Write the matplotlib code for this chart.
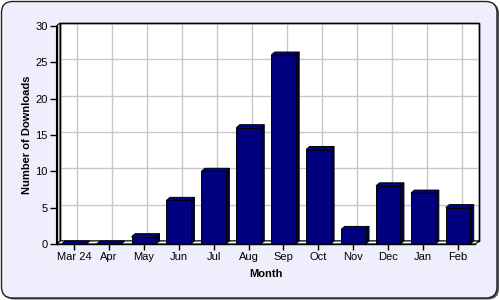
import matplotlib
matplotlib.use('Agg')
import matplotlib.pyplot as plt
from matplotlib.patches import FancyBboxPatch, Polygon, Rectangle
from matplotlib.lines import Line2D
import matplotlib.transforms as mtransforms

months = ['Mar 24', 'Apr', 'May', 'Jun', 'Jul', 'Aug', 'Sep', 'Oct', 'Nov', 'Dec', 'Jan', 'Feb']
downloads = [0, 0, 1, 6, 10, 16, 26, 13, 2, 8, 7, 5]
yticks = [0, 5, 10, 15, 20, 25, 30]
xlabel = 'Month'
ylabel = 'Number of Downloads'

plt.rcParams['font.family'] = ['Liberation Sans', 'DejaVu Sans']

W, H = 500, 300
fig = plt.figure(figsize=(W / 100, H / 100), dpi=100)
fig.patch.set_facecolor('white')

ident = mtransforms.IdentityTransform()
shadow = FancyBboxPatch((3, 0.5), W - 4, H - 3, boxstyle='round,pad=0,rounding_size=11',
                        transform=ident, fc='#555566', ec='none', zorder=-2)
bg = FancyBboxPatch((1.5, 2), W - 4.5, H - 3.5, boxstyle='round,pad=0,rounding_size=11',
                    transform=ident, fc='#EEEEFC', ec='#222222', lw=1.0, zorder=-1)
fig.patches.extend([shadow, bg])

left, right, top, bottom = 56.5, 475.5, 26, 244
ax = fig.add_axes([left / W, (H - bottom) / H, (right - left) / W, (bottom - top) / H])
ax.set_zorder(1)
ax.set_facecolor('none')
n = len(months)
ax.set_xlim(-0.5, n - 0.5)
ax.set_ylim(0, 30)
for s in ax.spines.values():
    s.set_visible(False)

dx, dy = 0.1, 0.42  # depth of the 3D effect in data units
x0, x1 = -0.5, n - 0.5
ymax = 30

# back wall
ax.add_patch(Rectangle((x0 + dx, dy), x1 - x0, ymax, fc='white', ec='black', lw=1.0,
                       zorder=0.5, clip_on=False))
# grid on back wall
for yv in yticks[1:]:
    ax.add_line(Line2D([x0 + dx, x1 + dx], [yv + dy, yv + dy], color='#C8C8C8', lw=1.0,
                       zorder=0.6, clip_on=False))
for i in range(n):
    ax.add_line(Line2D([i + dx, i + dx], [dy, ymax + dy], color='#C8C8C8', lw=1.0,
                       zorder=0.6, clip_on=False))
# redraw wall border above grid
ax.add_patch(Rectangle((x0 + dx, dy), x1 - x0, ymax, fc='none', ec='black', lw=1.0,
                       zorder=0.65, clip_on=False))
# floor
ax.add_patch(Polygon([(x0, 0), (x1, 0), (x1 + dx, dy), (x0 + dx, dy)], closed=True,
                     fc='white', ec='black', lw=0.8, zorder=0.7, clip_on=False))
# left wall
ax.add_patch(Polygon([(x0, 0), (x0 + dx, dy), (x0 + dx, ymax + dy), (x0, ymax)], closed=True,
                     fc='white', ec='black', lw=0.8, zorder=0.7, clip_on=False))

bw = 0.7
front = '#000080'
side = '#00004C'
topc = '#00008C'
for i, v in enumerate(downloads):
    a, b = i - bw / 2, i + bw / 2
    ax.add_patch(Polygon([(b, 0), (b + dx, dy), (b + dx, v + dy), (b, v)], closed=True,
                         fc=side, ec='black', lw=0.7, zorder=2, clip_on=False))
    ax.add_patch(Polygon([(a, v), (b, v), (b + dx, v + dy), (a + dx, v + dy)], closed=True,
                         fc=topc, ec='black', lw=0.7, zorder=2, clip_on=False))
ax.bar(range(n), downloads, width=bw, color=front, edgecolor='black', linewidth=0.7, zorder=3)

# front axis lines
ax.add_line(Line2D([x0, x0], [0, ymax], color='black', lw=1.0, zorder=4, clip_on=False))
ax.add_line(Line2D([x0, x1], [0, 0], color='black', lw=1.0, zorder=4, clip_on=False))

ax.set_xticks(range(n))
ax.set_xticklabels(months)
ax.set_yticks(yticks)
ax.tick_params(axis='both', direction='out', length=4, width=1, color='black',
               labelsize=8, pad=2)
ax.tick_params(axis='y', length=5, pad=1.5)
ax.set_xlabel(xlabel, fontsize=8, fontweight='bold', labelpad=4.5)
ax.set_ylabel(ylabel, fontsize=8, fontweight='bold', labelpad=2)

fig.savefig('out.png', dpi=100, facecolor=fig.get_facecolor())
